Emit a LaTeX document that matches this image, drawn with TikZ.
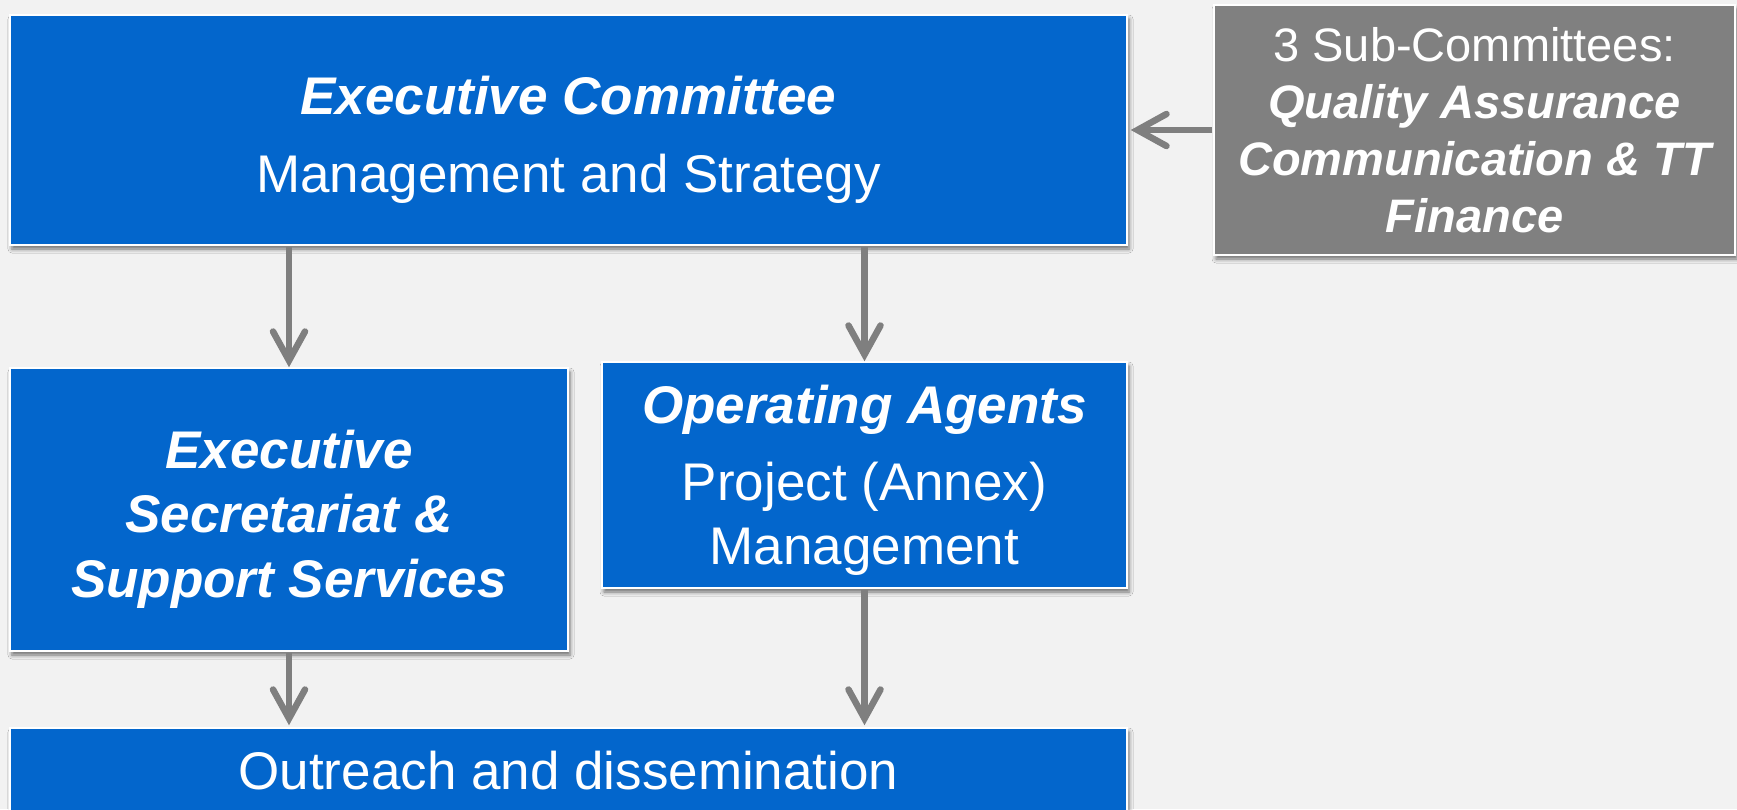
\documentclass[tikz,border=0pt]{standalone}
\usepackage{fontspec}
\setmainfont{Liberation Sans}
\usetikzlibrary{arrows.meta,shadows.blur}
\definecolor{bluebox}{HTML}{0366CC}
\definecolor{greybox}{HTML}{808080}
\definecolor{arrowgrey}{HTML}{7F7F7F}
\definecolor{bgc}{HTML}{F2F2F2}
\begin{document}
\begin{tikzpicture}[x=1pt,y=-1pt,
  boxbase/.style={rectangle, draw=white, line width=1.5pt, inner sep=0pt,
    blur shadow={shadow xshift=2pt, shadow yshift=-4pt, shadow blur radius=4pt, shadow opacity=55}},
  bluebox/.style={boxbase, fill=bluebox},
  greybox/.style={boxbase, fill=greybox},
  bigtxt/.style={text=white, align=center, inner sep=0pt, anchor=base,
    font={\fontsize{53}{64}\selectfont}},
  smalltxt/.style={text=white, align=center, inner sep=0pt, anchor=base,
    font={\fontsize{47}{57}\selectfont}},
  arr/.style={draw=arrowgrey, line width=6.5pt, shorten <=1pt,
    -{Straight Barb[length=29pt, width=32pt, line cap=round]}}
]
\clip (0,0) rectangle (1737,809);
\fill[bgc] (0,0) rectangle (1737,809);

% boxes
\node[bluebox, minimum width=1117pt, minimum height=230pt] (exec) at (568.5,130) {};
\node[greybox, minimum width=521pt, minimum height=250pt] (sub) at (1474.5,130) {};
\node[bluebox, minimum width=558pt, minimum height=283pt] (esec) at (289,509.5) {};
\node[bluebox, minimum width=525pt, minimum height=226pt] (oa) at (864.5,475) {};
\node[bluebox, minimum width=1117pt, minimum height=142pt] (out) at (568.5,799) {};

% texts (anchored at the baseline of their last line)
\node[bigtxt] (exect) at (568.5,192)
  {\bfseries\itshape Executive Committee\\[14pt] Management and Strategy};
\node[smalltxt] (subt) at (1474.5,232)
  {3 Sub-Committees:\\ \bfseries\itshape Quality Assurance\\ \bfseries\itshape Communication \& TT\\ \bfseries\itshape Finance};
\node[bigtxt, font={\fontsize{53}{64.5}\selectfont\bfseries\itshape}] (esect) at (289,597)
  {Executive\\ Secretariat \&\\ Support Services};
\node[bigtxt] (oat) at (864.5,564)
  {\bfseries\itshape Operating Agents\\[13pt] Project (Annex)\\ Management};
\node[bigtxt] (outt) at (568.5,789) {Outreach and dissemination};

% connectors
\draw[arr, shorten >=3pt] (sub.west) -- (exec.east);
\draw[arr] (exec.south -| esec.north) -- (esec.north);
\draw[arr] (exec.south -| oa.north) -- (oa.north);
\draw[arr, shorten >=2pt] (esec.south) -- (esec.south |- out.north);
\draw[arr, shorten >=2pt] (oa.south) -- (oa.south |- out.north);
\end{tikzpicture}
\end{document}
